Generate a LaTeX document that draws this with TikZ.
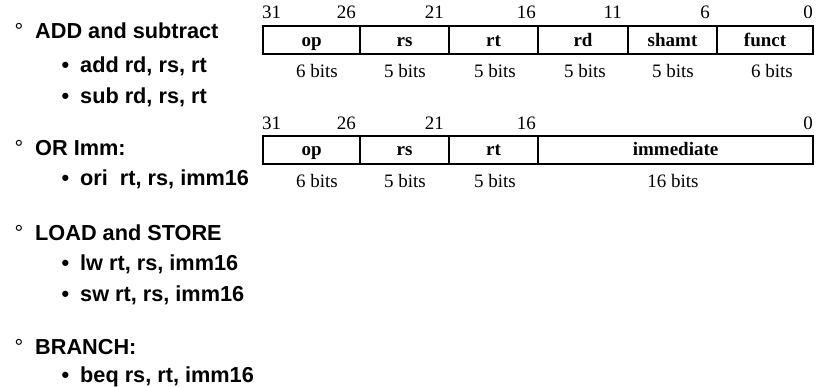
\documentclass[tikz,border=0pt]{standalone}
\usepackage{fontspec}
\setmainfont{Liberation Serif}
\newfontfamily\armfont{Liberation Sans}
\begin{document}
\begin{tikzpicture}[x=1pt,y=-1pt,
  field/.style={draw, line width=2.1pt, minimum height=28pt, inner sep=0pt,
    anchor=north west, text height=13pt, text depth=1pt,
    font=\fontsize{19}{21}\selectfont\bfseries},
  bitno/.style={inner sep=0pt, anchor=base east, font=\fontsize{19}{21}\selectfont},
  bitnoL/.style={bitno, anchor=base west},
  width/.style={inner sep=0pt, anchor=base, font=\fontsize{19}{21}\selectfont},
  mainitem/.style={inner sep=0pt, anchor=base west, font=\armfont\bfseries\fontsize{21.7}{24}\selectfont},
  subitem/.style={mainitem},
  deg/.style={inner sep=0pt, anchor=base, font=\armfont\fontsize{21.7}{24}\selectfont},
  bul/.style={inner sep=0pt, anchor=base, font=\armfont\bfseries\fontsize{21.7}{24}\selectfont}]
\useasboundingbox (0,0) rectangle (825,386);

% ---------- R-format box ----------
\node[field, minimum width=97pt] (f1op) at (262,25) {op};
\node[field, minimum width=89pt] (f1rs) at (359,25) {rs};
\node[field, minimum width=89pt] (f1rt) at (448,25) {rt};
\node[field, minimum width=90pt] (f1rd) at (537,25) {rd};
\node[field, minimum width=89pt] (f1sh) at (627,25) {shamt};
\node[field, minimum width=96pt] (f1fn) at (716,25) {funct};

\node[bitnoL] (b1a) at (262,18.3) {31};
\node[bitno] (b1b) at (356,18.3) {26};
\node[bitno] (b1c) at (444,18.3) {21};
\node[bitno] (b1d) at (536,18.3) {16};
\node[bitno] (b1e) at (622,18.3) {11};
\node[bitno] (b1f) at (710,18.3) {6};
\node[bitno] (b1g) at (813,18.3) {0};

\node[width] (w1a) at (317,77) {6 bits};
\node[width] (w1b) at (405,77) {5 bits};
\node[width] (w1c) at (495,77) {5 bits};
\node[width] (w1d) at (585,77) {5 bits};
\node[width] (w1e) at (673,77) {5 bits};
\node[width] (w1f) at (772,77) {6 bits};

% ---------- I-format box ----------
\node[field, minimum width=97pt] (f2op) at (262,134.5) {op};
\node[field, minimum width=89pt] (f2rs) at (359,134.5) {rs};
\node[field, minimum width=89pt] (f2rt) at (448,134.5) {rt};
\node[field, minimum width=275pt] (f2im) at (537,134.5) {immediate};

\node[bitnoL] (b2a) at (262,129) {31};
\node[bitno] (b2b) at (356,129) {26};
\node[bitno] (b2c) at (444,129) {21};
\node[bitno] (b2d) at (536,129) {16};
\node[bitno] (b2g) at (813,129) {0};

\node[width] (w2a) at (317,187) {6 bits};
\node[width] (w2b) at (405,187) {5 bits};
\node[width] (w2c) at (495,187) {5 bits};
\node[width] (w2d) at (673,187) {16 bits};

% ---------- left list ----------
\node[deg] (d1) at (19,38) {°};
\node[mainitem] (m1) at (35,38) {ADD and subtract};
\node[bul] (u1) at (65.5,72) {•};
\node[subitem] (s1) at (80,72) {add rd, rs, rt};
\node[bul] (u2) at (65.5,103) {•};
\node[subitem] (s2) at (80,103) {sub rd, rs, rt};

\node[deg] (d2) at (19,155) {°};
\node[mainitem] (m2) at (35,155) {OR Imm:};
\node[bul] (u3) at (65.5,185) {•};
\node[subitem] (s3) at (80,185) {ori\ \ rt, rs, imm16};

\node[deg] (d3) at (19,240) {°};
\node[mainitem] (m3) at (35,240) {LOAD and STORE};
\node[bul] (u4) at (65.5,270) {•};
\node[subitem] (s4) at (80,270) {lw rt, rs, imm16};
\node[bul] (u5) at (65.5,301) {•};
\node[subitem] (s5) at (80,301) {sw rt, rs, imm16};

\node[deg] (d4) at (19,354) {°};
\node[mainitem] (m4) at (35,354) {BRANCH:};
\node[bul] (u6) at (65.5,382) {•};
\node[subitem] (s6) at (80,382) {beq rs, rt, imm16};
\end{tikzpicture}
\end{document}
